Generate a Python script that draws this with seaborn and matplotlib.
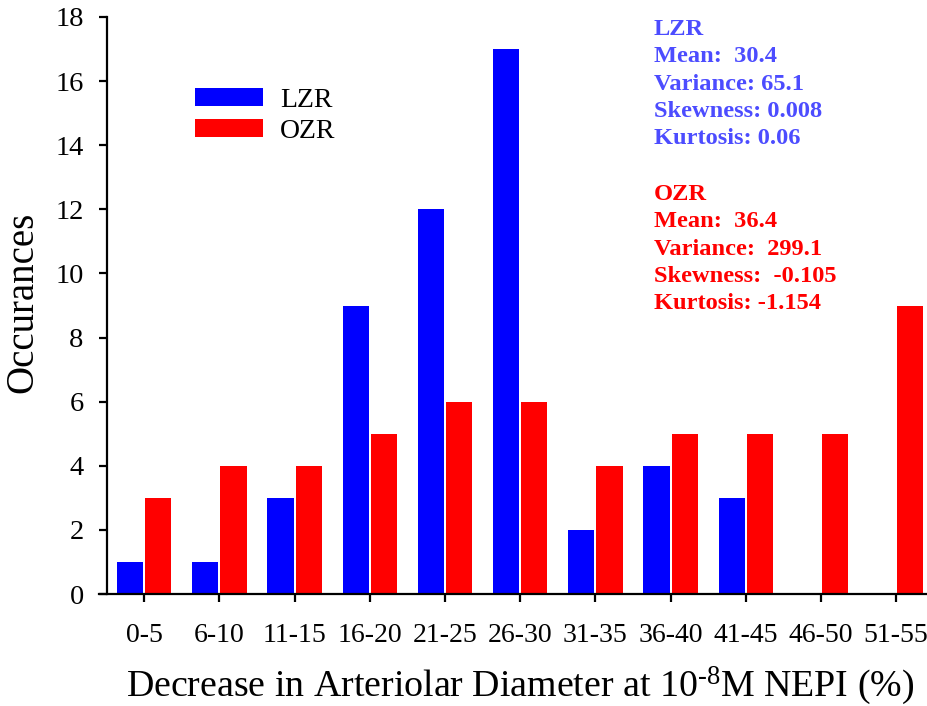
import matplotlib
matplotlib.use("Agg")
import matplotlib.pyplot as plt
import seaborn as sns
import pandas as pd

# Histogram bins and counts per strain
bins = ["0-5", "6-10", "11-15", "16-20", "21-25", "26-30",
        "31-35", "36-40", "41-45", "46-50", "51-55"]
lzr_counts = [1, 1, 3, 9, 12, 17, 2, 4, 3, 0, 0]
ozr_counts = [3, 4, 4, 5, 6, 6, 4, 5, 5, 5, 9]
groups = ["LZR", "OZR"]
colors = {"LZR": "#0000ff", "OZR": "#ff0000"}
yticks = [0, 2, 4, 6, 8, 10, 12, 14, 16, 18]

lzr_stats = ["LZR", "Mean:  30.4", "Variance: 65.1", "Skewness: 0.008", "Kurtosis: 0.06"]
ozr_stats = ["OZR", "Mean:  36.4", "Variance:  299.1", "Skewness:  -0.105", "Kurtosis: -1.154"]

df = pd.DataFrame({
    "bin": bins * 2,
    "group": ["LZR"] * len(bins) + ["OZR"] * len(bins),
    "count": lzr_counts + ozr_counts,
})

sns.set_style("ticks")
plt.rcParams["font.family"] = ["Liberation Serif", "DejaVu Serif"]
plt.rcParams["mathtext.fontset"] = "custom"
plt.rcParams["mathtext.rm"] = "Liberation Serif"
plt.rcParams["mathtext.it"] = "Liberation Serif:italic"
plt.rcParams["mathtext.bf"] = "Liberation Serif:bold"
plt.rcParams["text.color"] = "black"
plt.rcParams["axes.labelcolor"] = "black"

W, H = 927, 706
fig = plt.figure(figsize=(W / 100, H / 100), dpi=100)
ax = fig.add_axes([99 / W, 1 - 594 / H, (W - 99) / W, (594 - 17) / H])

sns.barplot(data=df, x="bin", y="count", hue="group", hue_order=groups,
            order=bins, palette=colors, width=0.75, gap=0.07,
            saturation=1, linewidth=0, ax=ax)

ax.set_xlim(-0.6, 10.41)
ax.set_ylim(0, 18)
ax.set_yticks(yticks)
ax.spines["left"].set_position(("data", -0.49))
ax.spines["left"].set_bounds(0, 18)
for side in ("top", "right"):
    ax.spines[side].set_visible(False)
for side in ("left", "bottom"):
    ax.spines[side].set_linewidth(1.6)
    ax.spines[side].set_color("black")

ax.tick_params(axis="x", length=6, width=1.6, pad=15, labelsize=20, colors="black")
ax.tick_params(axis="y", length=6, width=1.6, pad=11, labelsize=20.5, colors="black")

ax.set_xlabel(r"Decrease in Arteriolar Diameter at 10$^{\text{-8}}$M NEPI (%)",
              fontsize=27.3, labelpad=12, color="black")
ax.xaxis.label.set_x(0.508)
ax.set_ylabel("Occurances", fontsize=28, color="black")
# right edge of the rotated label sits ~58 px left of the plot area
ax.yaxis.set_label_coords(-58 / 828, 0.505)

handles, labels = ax.get_legend_handles_labels()
ax.legend(handles, labels, loc="upper left",
          bbox_to_anchor=(195 / W, 1 - 88 / H), bbox_transform=fig.transFigure,
          frameon=False, fontsize=20, handlelength=2.45, handleheight=0.62,
          handletextpad=0.6, labelspacing=0.2, borderpad=0, borderaxespad=0)

# Summary statistics blocks
x0 = 654 / W
for i, line in enumerate(lzr_stats):
    fig.text(x0, 1 - (35 + 27.3 * i) / H, line, color="#4c4cff",
             fontsize=17.6, fontweight="bold", va="baseline", ha="left")
for i, line in enumerate(ozr_stats):
    fig.text(x0, 1 - (200 + 27.3 * i) / H, line, color="#ff0000",
             fontsize=17.6, fontweight="bold", va="baseline", ha="left")

fig.savefig("out.png", dpi=100)
